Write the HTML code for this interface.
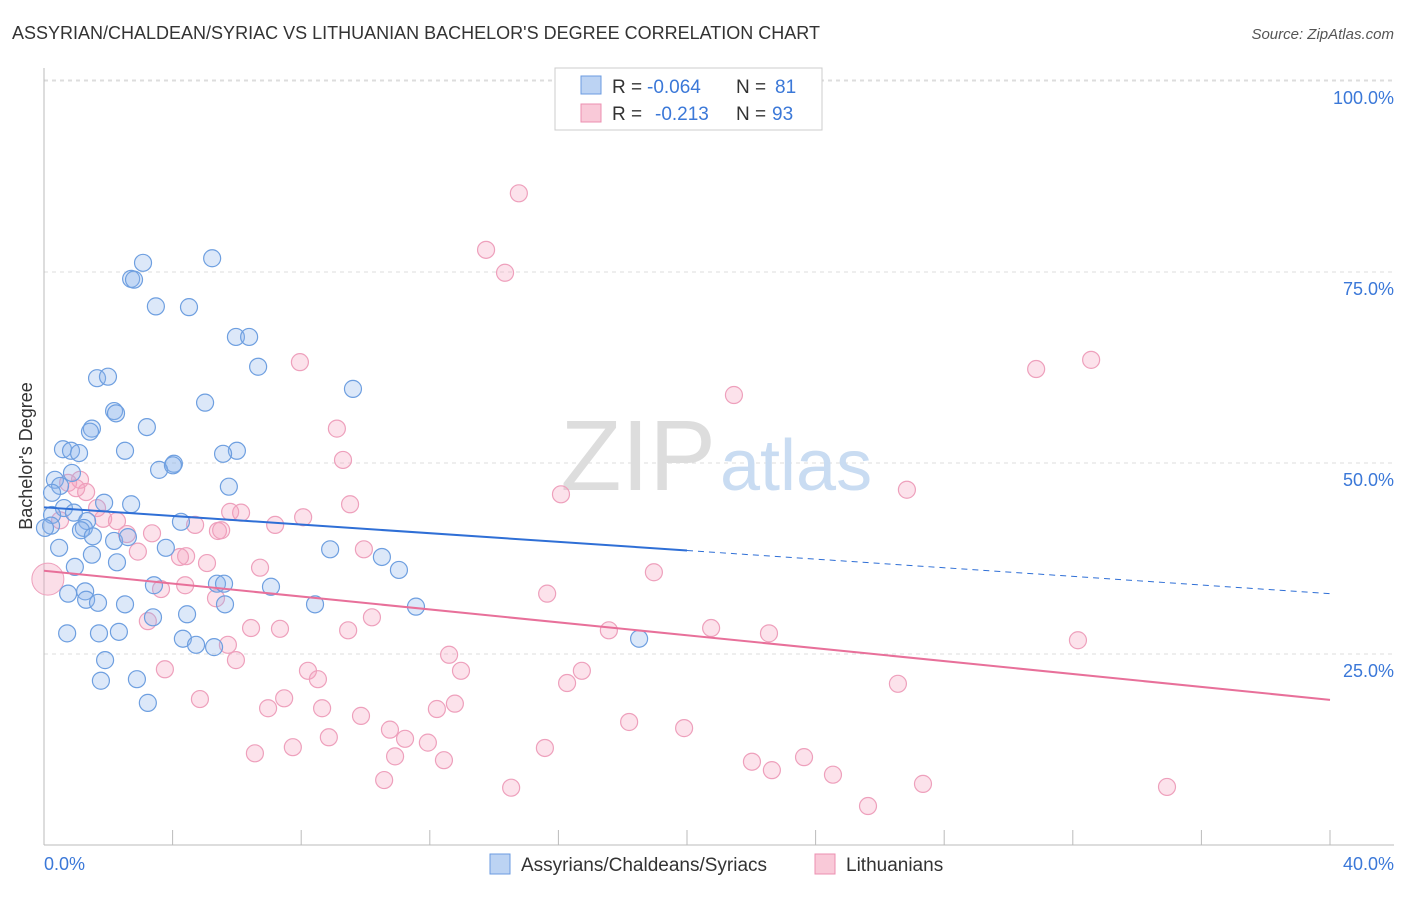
<!DOCTYPE html>
<html><head><meta charset="utf-8"><style>
body{margin:0;background:#fff;font-family:"Liberation Sans",sans-serif;}
svg text{font-family:"Liberation Sans",sans-serif;}
</style></head><body>
<svg width="1406" height="892" xmlns="http://www.w3.org/2000/svg">
<text x="12" y="39" font-size="18" fill="#333">ASSYRIAN/CHALDEAN/SYRIAC VS LITHUANIAN BACHELOR'S DEGREE CORRELATION CHART</text>
<text x="1394" y="39" font-size="15" fill="#555" font-style="italic" text-anchor="end">Source: ZipAtlas.com</text>
<g id="grid"></g>
<text x="716" y="490" font-size="100" fill="#ddd" text-anchor="end" font-family="Liberation Serif">ZIP</text>
<text x="720" y="490" font-size="72" fill="#c9dcf2">atlas</text>
<g id="pts"></g>
<g id="trend"></g>
<text x="32" y="456" font-size="18" fill="#333" text-anchor="middle" transform="rotate(-90 32 456)">Bachelor's Degree</text>
<text x="44" y="870" font-size="18" fill="#3b78d8">0.0%</text>
<text x="1394" y="870" font-size="18" fill="#3b78d8" text-anchor="end">40.0%</text>
<g>
<rect x="555" y="68" width="267" height="62" fill="#fff" stroke="#ccc"/>
<rect x="581" y="76" width="20" height="18" fill="#bcd3f3" stroke="#6b9be0"/>
<rect x="581" y="104" width="20" height="18" fill="#f9c9d8" stroke="#ec8fb0"/>
<text x="612" y="93" font-size="19" fill="#333">R =</text>
<text x="647" y="93" font-size="19" fill="#3b78d8">-0.064</text>
<text x="736" y="93" font-size="19" fill="#333">N =</text>
<text x="775" y="93" font-size="19" fill="#3b78d8">81</text>
<text x="612" y="120" font-size="19" fill="#333">R =</text>
<text x="655" y="120" font-size="19" fill="#3b78d8">-0.213</text>
<text x="736" y="120" font-size="19" fill="#333">N =</text>
<text x="772" y="120" font-size="19" fill="#3b78d8">93</text>
</g>
<g>
<rect x="490" y="854" width="20" height="20" fill="#bcd3f3" stroke="#6b9be0"/>
<text x="521" y="871" font-size="19" fill="#333">Assyrians/Chaldeans/Syriacs</text>
<rect x="815" y="854" width="20" height="20" fill="#f9c9d8" stroke="#ec8fb0"/>
<text x="846" y="871" font-size="19" fill="#333">Lithuanians</text>
</g>
</svg>
<script>
const yTicks=[25,50,75,100];
const yTickLabels=["25.0%","50.0%","75.0%","100.0%"];
const xTicks=[0,4,8,12,16,20,24,28,32,36,40];
const bluePx=[[143,263],[212,258],[131,279],[134,280],[156,306],[189,307],[236,337],[249,337],[258,367],[97,378],[108,377],[353,389],[205,403],[114,411],[116,413],[92,429],[90,432],[147,427],[63,449],[71,451],[79,453],[125,451],[237,451],[223,454],[174,464],[159,470],[173,465],[72,473],[55,480],[60,486],[229,487],[52,493],[104,503],[131,504],[64,508],[74,513],[52,515],[87,521],[84,528],[181,522],[51,526],[81,530],[45,528],[93,536],[114,541],[128,537],[166,548],[59,548],[330,549],[382,557],[92,555],[117,562],[399,570],[75,567],[154,585],[85,591],[217,584],[224,584],[271,587],[68,594],[86,600],[98,603],[125,604],[153,617],[225,604],[315,604],[416,607],[187,614],[67,633],[99,633],[119,632],[183,639],[196,645],[214,647],[639,639],[105,660],[101,681],[137,679],[148,703]];
const pinkPx=[[519,193],[486,250],[505,273],[300,362],[1036,369],[1091,360],[734,395],[337,429],[343,460],[907,490],[561,494],[350,504],[80,480],[68,483],[86,492],[76,488],[97,508],[103,519],[117,521],[127,534],[152,533],[195,525],[218,531],[241,513],[230,512],[275,525],[303,517],[221,530],[138,552],[186,556],[207,563],[180,557],[364,549],[260,568],[654,572],[547,594],[161,589],[185,585],[216,598],[372,617],[148,621],[348,630],[251,628],[280,629],[609,630],[711,628],[769,633],[1078,640],[228,645],[236,660],[449,655],[461,671],[165,669],[308,671],[318,679],[582,671],[567,683],[898,684],[284,698],[200,699],[268,708],[322,708],[455,704],[437,709],[361,716],[629,722],[684,728],[390,730],[329,737],[405,739],[428,743],[293,747],[255,753],[545,748],[395,756],[804,757],[444,760],[752,762],[772,770],[833,775],[384,780],[923,784],[1167,787],[511,788],[868,806],[60,520]];
const blueX=bluePx.map(p=>+((p[0]-44)/32.15).toFixed(2));
const blueY=bluePx.map(p=>+((845-p[1])/7.64).toFixed(1));
const pinkX=pinkPx.map(p=>+((p[0]-44)/32.15).toFixed(2));
const pinkY=pinkPx.map(p=>+((845-p[1])/7.64).toFixed(1));
const blueTrend=[44.2,32.9];
const pinkTrend=[35.9,19.0];
const blueSolidEnd=20;
const X=v=>44+v*32.15, Y=v=>845-v*7.64;
const NS="http://www.w3.org/2000/svg";
function mk(tag,attrs,parent){const e=document.createElementNS(NS,tag);for(const k in attrs)e.setAttribute(k,attrs[k]);parent.appendChild(e);return e;}
const g=document.getElementById('grid');
yTicks.forEach((t,i)=>{
 const l=mk('line',{x1:44,x2:1394,y1:Y(t),y2:Y(t),stroke:'#ddd','stroke-dasharray':'4,4'},g);
 
 
 const tx=mk('text',{x:1394,y:Y(t)+23,'font-size':18,fill:'#3b78d8','text-anchor':'end'},g);
 tx.textContent=yTickLabels[i];
 
 
});
const topLine=mk('line',{x1:44,x2:1394,y1:80,y2:80,stroke:'#ddd','stroke-dasharray':'4,4'},g);


const ya=mk('line',{x1:44,x2:44,y1:68,y2:845,stroke:'#bbb'},g);


const xa=mk('line',{x1:44,x2:1394,y1:845,y2:845,stroke:'#bbb'},g);


xTicks.forEach(t=>{
 const l=mk('line',{x1:X(t),x2:X(t),y1:830,y2:845,stroke:'#bbb'},g);
 
 
});
const pg=document.getElementById('pts');
pinkX.forEach((x,i)=>{
 const c=mk('circle',{cx:X(x),cy:Y(pinkY[i]),r:8.5,fill:'rgba(244,160,190,0.3)',stroke:'#eea0bc','stroke-width':1.2},pg);
 
 
});
const big=mk('circle',{cx:X(0.12),cy:Y(34.8),r:16,fill:'rgba(244,160,190,0.35)',stroke:'#eea0bc'},pg);


blueX.forEach((x,i)=>{
 const c=mk('circle',{cx:X(x),cy:Y(blueY[i]),r:8.5,fill:'rgba(140,180,235,0.3)',stroke:'#6e9fe0','stroke-width':1.2},pg);
 
 
});
const tg=document.getElementById('trend');
const by=x=>blueTrend[0]+(blueTrend[1]-blueTrend[0])*x/40;
const l1=mk('line',{x1:X(0),y1:Y(by(0)),x2:X(blueSolidEnd),y2:Y(by(blueSolidEnd)),stroke:'#2f6fd6','stroke-width':2},tg);


const l2=mk('line',{x1:X(blueSolidEnd),y1:Y(by(blueSolidEnd)),x2:X(40),y2:Y(by(40)),stroke:'#2f6fd6','stroke-width':1,'stroke-dasharray':'6,5'},tg);


const l3=mk('line',{x1:X(0),y1:Y(pinkTrend[0]),x2:X(40),y2:Y(pinkTrend[1]),stroke:'#e8709a','stroke-width':2},tg);


</script>
</body></html>
